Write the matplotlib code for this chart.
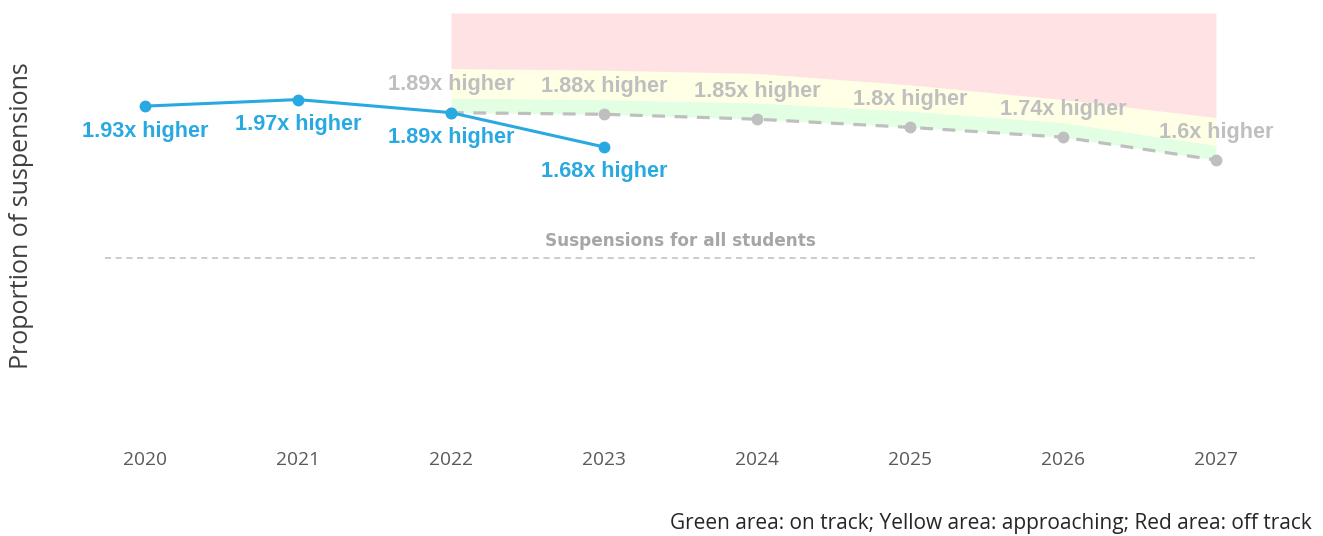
import matplotlib
matplotlib.use("Agg")
import matplotlib.pyplot as plt

# ---- data ----
years = [2020, 2021, 2022, 2023, 2024, 2025, 2026, 2027]
actual_years = [2020, 2021, 2022, 2023]
actual_vals = [1.93, 1.97, 1.89, 1.68]
actual_labels = ["1.93x higher", "1.97x higher", "1.89x higher", "1.68x higher"]
target_years = [2022, 2023, 2024, 2025, 2026, 2027]
target_vals = [1.89, 1.88, 1.85, 1.80, 1.74, 1.60]
target_labels = ["1.89x higher", "1.88x higher", "1.85x higher", "1.8x higher", "1.74x higher", "1.6x higher"]
green_top = [1.98, 1.97, 1.95, 1.90, 1.83, 1.69]
yellow_top = [2.16, 2.15, 2.13, 2.06, 1.97, 1.86]
red_top = [2.5, 2.5, 2.5, 2.5, 2.5, 2.5]
all_students = 1.0
ref_label = "Suspensions for all students"
ylabel = "Proportion of suspensions"
footnote = "Green area: on track; Yellow area: approaching; Red area: off track"

BLUE = "#29A9E1"
GRAY = "#BFBFBF"

fig = plt.figure(figsize=(13.23, 5.36), dpi=100)
ax = fig.add_axes([105/1323, (536-421.4)/536, (1255-105)/1323, 408.4/536])
ax.set_xlim(2020 - 40/153, 2027 + 39/153)
ax.set_ylim(0, 2.5)

ax.fill_between(target_years, target_vals, green_top, color="#E3FFE3", lw=0, zorder=1)
ax.fill_between(target_years, green_top, yellow_top, color="#FFFFE6", lw=0, zorder=1)
ax.fill_between(target_years, yellow_top, red_top, color="#FFE3E4", lw=0, zorder=1)

ax.axhline(all_students, color=GRAY, lw=1.1, dashes=(4, 3), zorder=2)
ax.annotate(ref_label, (2023.5, all_students), xytext=(0, 12), textcoords="offset points",
            ha="center", va="center", color="#A6A6A6", fontsize=12.2, fontweight="bold",
            family="DejaVu Sans")

ax.plot(target_years, target_vals, color=GRAY, lw=2.3, dashes=(4, 3), marker="o",
        markersize=7.5, zorder=3)
ax.plot(actual_years, actual_vals, color=BLUE, lw=2.2, marker="o", markersize=7.5, zorder=4)

for x, v, t in zip(actual_years, actual_vals, actual_labels):
    ax.annotate(t, (x, v), xytext=(0, -18), textcoords="offset points", ha="center",
                va="center", color=BLUE, fontsize=15.6, fontweight="bold", family="Liberation Sans")
for x, v, t in zip(target_years, target_vals, target_labels):
    ax.annotate(t, (x, v), xytext=(0, 20), textcoords="offset points", ha="center",
                va="center", color=GRAY, fontsize=15.6, fontweight="bold", family="Liberation Sans")

ax.set_xticks(years)
ax.set_xticklabels([str(y) for y in years], family="Open Sans", fontsize=13.8, color="#595959")
ax.tick_params(axis="x", length=0, pad=21)
ax.set_yticks([])
for s in ax.spines.values():
    s.set_visible(False)

fig.text(22/1323, 1 - 216/536, ylabel, rotation=90, ha="center", va="center",
         family="Open Sans", fontsize=18, color="#404040")
fig.text(1312/1323, 1 - 524/536, footnote, ha="right", va="center",
         family="Open Sans", fontsize=15, color="#262626")

fig.savefig("out.png", dpi=100)
